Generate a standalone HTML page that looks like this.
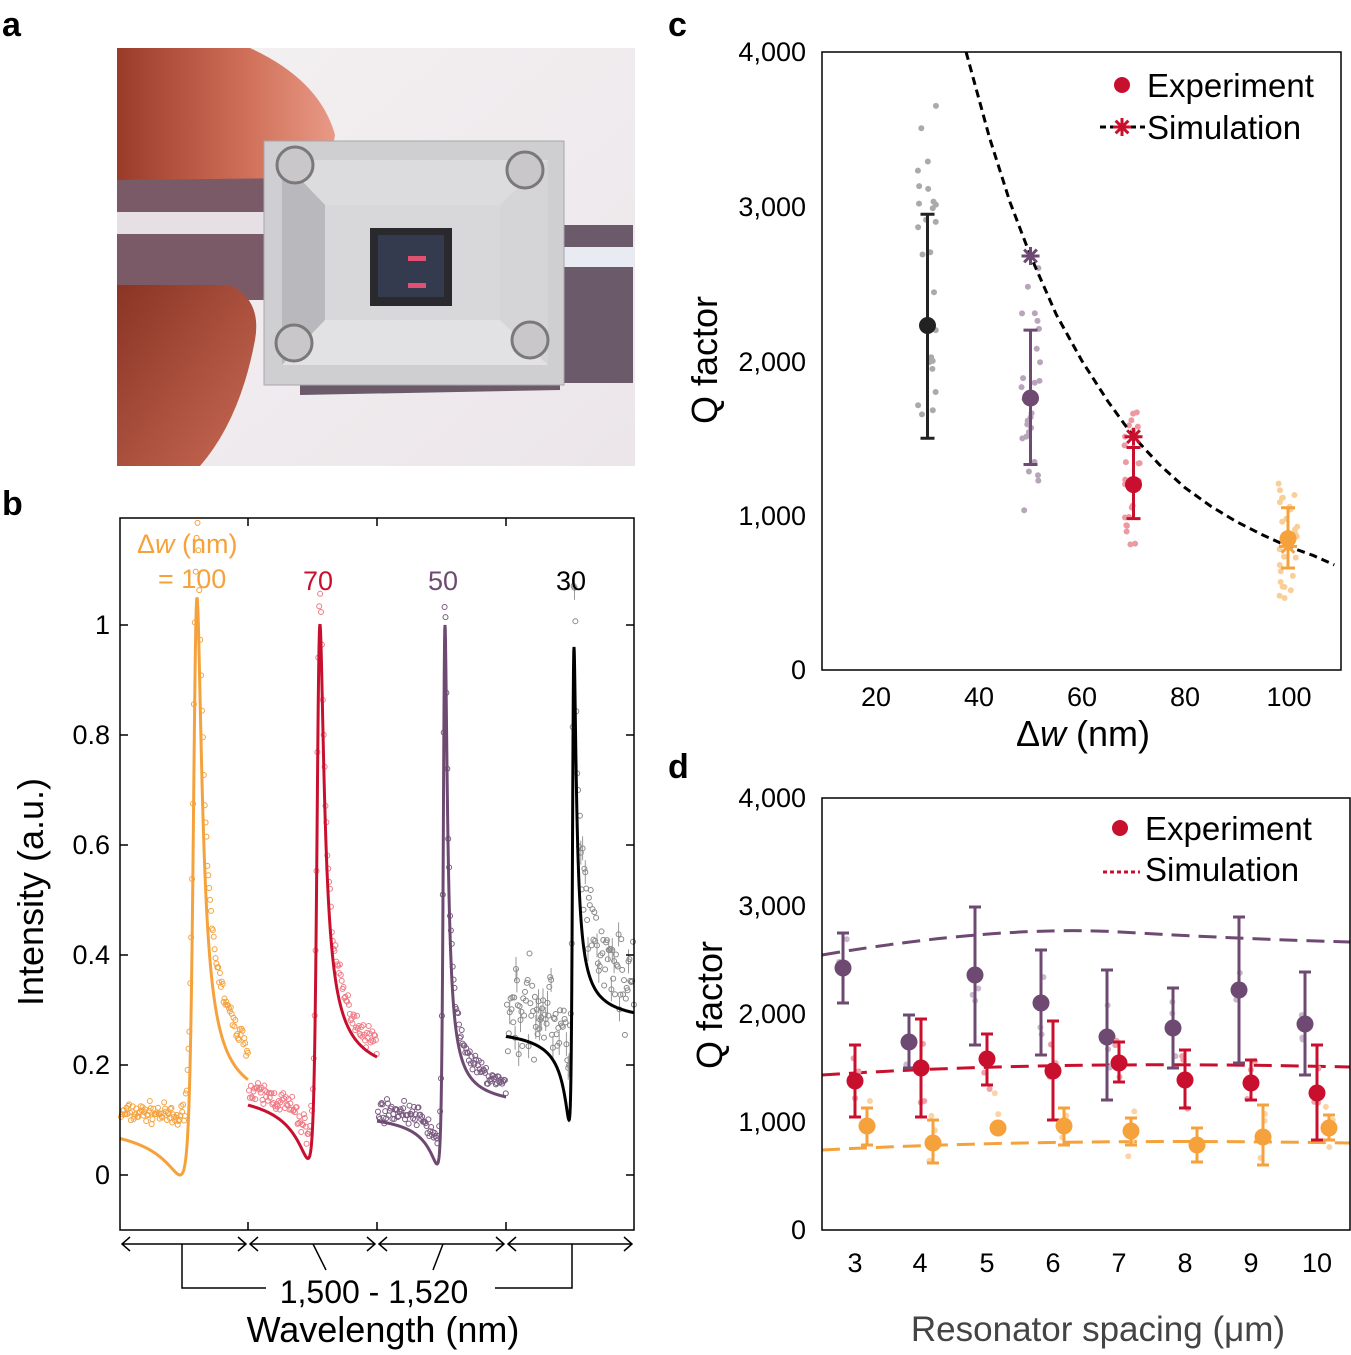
<!DOCTYPE html>
<html><head><meta charset="utf-8">
<style>
html,body{margin:0;padding:0;background:#fff;}
svg{display:block;font-family:"Liberation Sans",Arial,sans-serif;}
</style></head>
<body>
<svg id="s" width="1351" height="1355" viewBox="0 0 1351 1355" xmlns="http://www.w3.org/2000/svg">
<defs>
<linearGradient id="bg" x1="0" y1="0" x2="1" y2="1">
<stop offset="0" stop-color="#f4f1f2"/><stop offset="1" stop-color="#ece6ea"/></linearGradient>
<linearGradient id="hand" x1="0" y1="0" x2="1" y2="0">
<stop offset="0" stop-color="#9a3b2a"/><stop offset="0.6" stop-color="#d0705a"/><stop offset="1" stop-color="#e89a86"/></linearGradient>
<linearGradient id="hand2" x1="0" y1="0" x2="1" y2="1">
<stop offset="0" stop-color="#8a3424"/><stop offset="1" stop-color="#c86a55"/></linearGradient>
</defs>
<rect x="117" y="48" width="518" height="418" fill="url(#bg)"/>
<polygon points="300,383 633,383 633,225 560,225 560,390 300,395" fill="#6a5a6a"/>
<polygon points="117,170 300,170 300,300 117,300" fill="#7a5a66"/>
<rect x="117" y="212" width="160" height="22" fill="#e6dfe4"/>
<rect x="555" y="247" width="78" height="20" fill="#e8ecf2"/>
<path d="M117,48 L250,48 Q320,80 335,135 Q330,170 300,178 L117,180 Z" fill="url(#hand)"/>
<path d="M117,285 L230,285 Q262,300 255,340 Q240,420 200,466 L117,466 Z" fill="url(#hand2)"/>
<rect x="264" y="141" width="300" height="244" fill="#cfcfd2" stroke="#a8a6aa"/>
<polygon points="282,160 548,160 500,205 325,205" fill="#dcdcde"/>
<polygon points="282,160 325,205 325,320 282,365" fill="#b9b8bc"/>
<polygon points="548,160 500,205 500,320 548,365" fill="#d5d5d8"/>
<polygon points="282,365 325,320 500,320 548,365" fill="#e2e2e4"/>
<rect x="325" y="205" width="175" height="115" fill="#d8d8da"/>
<rect x="370" y="228" width="82" height="78" fill="#2a2a2e"/>
<rect x="378" y="235" width="66" height="62" fill="#353b4e"/>
<rect x="408" y="256" width="18" height="5" fill="#e05070"/>
<rect x="408" y="283" width="18" height="5" fill="#e05070"/>
<g fill="#c9c7c9" stroke="#7a7878" stroke-width="3">
<circle cx="295" cy="165" r="18"/><circle cx="525" cy="170" r="18"/><circle cx="294" cy="343" r="18"/><circle cx="530" cy="340" r="18"/></g>

<g font-weight="bold" font-size="34" fill="#000">
<text x="2" y="36">a</text><text x="2" y="515">b</text><text x="668" y="36">c</text><text x="668" y="778">d</text></g>

<g id="pb"></g>
<rect x="120" y="518" width="514" height="712" fill="none" stroke="#000" stroke-width="1.5"/>
<g font-size="27" text-anchor="end" fill="#000">
<text x="110" y="634">1</text><text x="110" y="744">0.8</text><text x="110" y="854">0.6</text><text x="110" y="964">0.4</text><text x="110" y="1074">0.2</text><text x="110" y="1184">0</text></g>
<g stroke="#000" stroke-width="1.5">
<line x1="120" y1="625" x2="128" y2="625"/><line x1="120" y1="735" x2="128" y2="735"/><line x1="120" y1="845" x2="128" y2="845"/><line x1="120" y1="955" x2="128" y2="955"/><line x1="120" y1="1065" x2="128" y2="1065"/><line x1="120" y1="1175" x2="128" y2="1175"/>
<line x1="634" y1="625" x2="626" y2="625"/><line x1="634" y1="735" x2="626" y2="735"/><line x1="634" y1="845" x2="626" y2="845"/><line x1="634" y1="955" x2="626" y2="955"/><line x1="634" y1="1065" x2="626" y2="1065"/><line x1="634" y1="1175" x2="626" y2="1175"/>
<line x1="248" y1="1230" x2="248" y2="1222"/><line x1="377" y1="1230" x2="377" y2="1222"/><line x1="506" y1="1230" x2="506" y2="1222"/>
<line x1="248" y1="518" x2="248" y2="526"/><line x1="377" y1="518" x2="377" y2="526"/><line x1="506" y1="518" x2="506" y2="526"/>
</g>
<text transform="translate(43,892) rotate(-90)" font-size="36" text-anchor="middle">Intensity (a.u.)</text>
<g font-size="27">
<text x="137" y="553" fill="#f5a23c">Δ<tspan font-style="italic">w</tspan> (nm)</text>
<text x="158" y="588" fill="#f5a23c">= 100</text>
<text x="303" y="590" fill="#c8102e">70</text>
<text x="428" y="590" fill="#6e4a72">50</text>
<text x="556" y="590" fill="#000">30</text></g>
<g stroke="#000" stroke-width="1.5" fill="none">
<line x1="122" y1="1244" x2="246" y2="1244"/><line x1="250" y1="1244" x2="375" y2="1244"/><line x1="379" y1="1244" x2="504" y2="1244"/><line x1="508" y1="1244" x2="632" y2="1244"/>
<path d="M130,1237 L122,1244 L130,1251 M238,1237 L246,1244 L238,1251 M258,1237 L250,1244 L258,1251 M367,1237 L375,1244 L367,1251 M387,1237 L379,1244 L387,1251 M496,1237 L504,1244 L496,1251 M516,1237 L508,1244 L516,1251 M624,1237 L632,1244 L624,1251"/>
<path d="M182,1244 L182,1288 L266,1288"/><path d="M572,1244 L572,1288 L495,1288"/>
<path d="M313,1244 L326,1270"/><path d="M443,1244 L433,1270"/>
</g>
<text x="374" y="1303" font-size="32" text-anchor="middle">1,500  -  1,520</text>
<text x="383" y="1342" font-size="36" text-anchor="middle">Wavelength (nm)</text>

<g id="pc"></g>
<rect x="822" y="52" width="519" height="618" fill="none" stroke="#000" stroke-width="1.5"/>
<g font-size="27" text-anchor="end">
<text x="806" y="61">4,000</text><text x="806" y="216">3,000</text><text x="806" y="371">2,000</text><text x="806" y="525">1,000</text><text x="806" y="679">0</text></g>
<g font-size="27" text-anchor="middle">
<text x="876" y="706">20</text><text x="979" y="706">40</text><text x="1082" y="706">60</text><text x="1185" y="706">80</text><text x="1289" y="706">100</text></g>
<text transform="translate(717,360) rotate(-90)" font-size="36" text-anchor="middle">Q factor</text>
<text x="1083" y="746" font-size="36" text-anchor="middle">Δ<tspan font-style="italic">w</tspan> (nm)</text>
<circle cx="1122" cy="85" r="8" fill="#c8102e"/>
<text x="1147" y="97" font-size="33">Experiment</text>
<line x1="1100" y1="127" x2="1145" y2="127" stroke="#000" stroke-width="3" stroke-dasharray="6,4"/>
<g id="legstar"></g>
<text x="1147" y="139" font-size="33">Simulation</text>

<g id="pd"></g>
<rect x="822" y="798" width="528" height="432" fill="none" stroke="#000" stroke-width="1.5"/>
<g font-size="27" text-anchor="end">
<text x="806" y="807">4,000</text><text x="806" y="915">3,000</text><text x="806" y="1023">2,000</text><text x="806" y="1131">1,000</text><text x="806" y="1239">0</text></g>
<g font-size="27" text-anchor="middle">
<text x="855" y="1272">3</text><text x="920" y="1272">4</text><text x="987" y="1272">5</text><text x="1053" y="1272">6</text><text x="1119" y="1272">7</text><text x="1185" y="1272">8</text><text x="1251" y="1272">9</text><text x="1317" y="1272">10</text></g>
<text transform="translate(722,1005) rotate(-90)" font-size="36" text-anchor="middle">Q factor</text>
<text x="1098" y="1341" font-size="35" text-anchor="middle" fill="#444">Resonator spacing (μm)</text>
<circle cx="1120" cy="828" r="8" fill="#c8102e"/>
<text x="1145" y="840" font-size="33">Experiment</text>
<line x1="1103" y1="872" x2="1140" y2="872" stroke="#c8102e" stroke-width="3" stroke-dasharray="4,3"/>
<text x="1145" y="881" font-size="33">Simulation</text>
</svg>
<script>
(function(){
var NS="http://www.w3.org/2000/svg";
function el(p,t,a){var e=document.createElementNS(NS,t);for(var k in a)e.setAttribute(k,a[k]);p.appendChild(e);return e;}
var seed=7;function rnd(){seed=(seed*16807)%2147483647;return seed/2147483647;}
function gauss(){return (rnd()+rnd()+rnd()-1.5)*0.9;}
function Y(v){return 1175-550*v;}
function star(p,x,y,c){var d='';for(var i=0;i<4;i++){var a=i*Math.PI/4;d+='M'+(x-9*Math.cos(a))+','+(y-9*Math.sin(a))+'L'+(x+9*Math.cos(a))+','+(y+9*Math.sin(a));}
 el(p,'path',{d:d,stroke:c,'stroke-width':3,fill:'none'});}
var pb=document.getElementById('pb');
var secs=[
 {x0:120,x1:248,xr:195.3,g:5.1,q:3,s:0.105,b:0,c:'#f5a23c',d:'#f5a23c',n:0.02,off:0.13},
 {x0:248,x1:377,xr:318.3,g:4.14,q:2.5,s:0.134,b:0.03,c:'#c8102e',d:'#f07a85',n:0.025,off:0.06},
 {x0:377,x1:506,xr:444.2,g:2.4,q:3,s:0.098,b:0.02,c:'#6e4a72',d:'#7a5a80',n:0.02,off:0.05},
 {x0:506,x1:634,xr:573,g:2,q:2,s:0.172,b:0.1,c:'#000',d:'#888',n:0.09,off:0.12}];
secs.forEach(function(S){
 function f(x){var e=(x-S.xr)/S.g;return S.s*(S.q+e)*(S.q+e)/(1+e*e)+S.b;}
 for(var x=S.x0+1;x<S.x1;x+=0.9){var v=f(x)+S.off*Math.exp(-Math.abs(x-S.xr)/70)+S.n*gauss();
  if(S.d=='#888'){ if(rnd()<0.3) el(pb,'line',{x1:x,x2:x,y1:Y(v)-12,y2:Y(v)+12,stroke:'#999','stroke-width':1});}
  el(pb,'circle',{cx:x,cy:Y(v),r:2.5,fill:'none',stroke:S.d,'stroke-width':1});}
 var d='';for(var x=S.x0;x<=S.x1;x+=0.25){d+=(d?'L':'M')+x.toFixed(2)+','+Y(Math.min(f(x),1.08)).toFixed(1);}
 el(pb,'path',{d:d,fill:'none',stroke:S.c,'stroke-width':3});
});
var pc=document.getElementById('pc');
function cx(w){return 876+(w-20)*5.15;} function cy(q){return 670-q*0.1545;}
var grp=[[30,2230,1500,2950,'#222','#aaa',1300,3680],[50,1760,1330,2200,'#6e4a72','#b8a4bb',1020,2700],[70,1200,980,1440,'#c8102e','#ec9aa2',800,1680],[100,850,660,1050,'#f5a23c','#f9cf98',450,1230]];
grp.forEach(function(G){
 for(var i=0;i<26;i++){var q=G[6]+(G[7]-G[6])*rnd();el(pc,'circle',{cx:cx(G[0])+(rnd()-0.5)*20,cy:cy(q),r:3,fill:G[5]});}
});
var pts=[[37.5,4000],[42,3450],[46,3030],[50,2680],[55,2300],[60,2000],[65,1740],[70,1510],[75,1330],[80,1180],[85,1060],[90,960],[95,875],[100,800],[105,740],[109,680]];
el(pc,'path',{d:'M'+pts.map(function(p){return cx(p[0]).toFixed(1)+','+cy(p[1]).toFixed(1)}).join('L'),fill:'none',stroke:'#000','stroke-width':3,'stroke-dasharray':'8,5'});
grp.forEach(function(G){var x=cx(G[0]);
 el(pc,'path',{d:'M'+x+','+cy(G[2])+'V'+cy(G[3])+'M'+(x-7)+','+cy(G[2])+'h14M'+(x-7)+','+cy(G[3])+'h14',stroke:G[4],'stroke-width':3,fill:'none'});
 el(pc,'circle',{cx:x,cy:cy(G[1]),r:8.5,fill:G[4]});});
[[50,2680,'#6e4a72'],[70,1510,'#c8102e'],[100,800,'#f5a23c']].forEach(function(s){star(pc,cx(s[0]),cy(s[1]),s[2]);});
star(document.getElementById('legstar'),1122,127,'#c8102e');
var pd=document.getElementById('pd');
el(pd,'path',{d:'M822,955 Q1000,925 1120,932 T1350,942',fill:'none',stroke:'#6e4a72','stroke-width':3,'stroke-dasharray':'18,9'});
el(pd,'path',{d:'M822,1075 Q1050,1060 1350,1067',fill:'none',stroke:'#c8102e','stroke-width':3,'stroke-dasharray':'18,9'});
el(pd,'path',{d:'M822,1150 Q1050,1138 1350,1143',fill:'none',stroke:'#f5a23c','stroke-width':3,'stroke-dasharray':'18,9'});
var P=[[843,968,933,1003],[909,1042,1015,1068],[975,975,907,1045],[1041,1003,950,1055],[1107,1037,970,1100],[1173,1028,988,1068],[1239,990,917,1063],[1305,1024,972,1075]];
var R=[[855,1081,1045,1117],[921,1068,1019,1117],[987,1059,1034,1085],[1053,1071,1021,1120],[1119,1063,1042,1082],[1185,1080,1050,1108],[1251,1083,1060,1100],[1317,1093,1045,1140]];
var O=[[867,1126,1108,1145],[933,1143,1120,1163],[998,1128,1128,1128],[1064,1126,1108,1145],[1131,1131,1118,1145],[1197,1145,1128,1162],[1263,1137,1105,1165],[1329,1128,1115,1140]];
[[P,'#6e4a72','#c9b9cc'],[R,'#c8102e','#f0a0a8'],[O,'#f5a23c','#fbd3a5']].forEach(function(A){
 A[0].forEach(function(p){for(var i=0;i<3;i++)el(pd,'circle',{cx:p[0]+(rnd()-0.5)*8,cy:p[1]+(rnd()-0.5)*70,r:3,fill:A[2]});});
 A[0].forEach(function(p){var x=p[0];
 el(pd,'path',{d:'M'+x+','+p[2]+'V'+p[3]+'M'+(x-6)+','+p[2]+'h12M'+(x-6)+','+p[3]+'h12',stroke:A[1],'stroke-width':3,fill:'none'});
 el(pd,'circle',{cx:x,cy:p[1],r:8.5,fill:A[1]});});});
})();
</script>
</body></html>
